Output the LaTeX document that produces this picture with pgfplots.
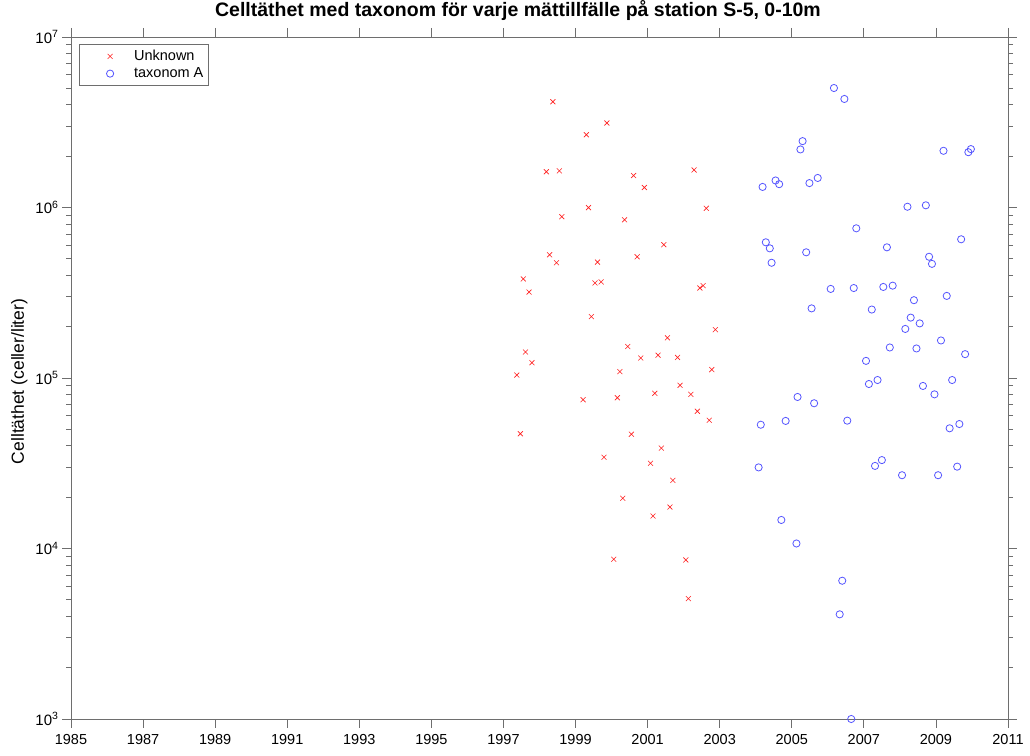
\documentclass[border=0pt]{standalone}
\usepackage{fontspec}
\setmainfont{Liberation Sans}
\usepackage{pgfplots}
\usepackage{pgfplotstable}
\pgfplotsset{compat=1.18}
\definecolor{axgray}{RGB}{110,110,110}
\definecolor{mred}{RGB}{255,30,30}
\definecolor{mblue}{RGB}{85,85,255}
\pgfplotsset{mylegimg/.style={legend image code/.code={\path[draw=none,fill=none] (0pt,-3pt) rectangle (50pt,3pt); \draw[mark repeat=2,mark phase=2,##1,only marks] plot coordinates {(0pt,0pt) (28pt,0pt) (50pt,0pt)};}}}

\pgfplotstableread{
year value
1998.37 4.17e6
1999.87 3.13e6
1999.30 2.67e6
1998.19 1.62e6
1998.55 1.64e6
2000.61 1.54e6
2000.91 1.31e6
2002.29 1.66e6
1999.36 9.98e5
2002.63 9.89e5
1998.62 8.83e5
2000.36 8.47e5
2001.45 6.05e5
1998.28 5.28e5
1998.47 4.74e5
1999.61 4.78e5
2000.71 5.14e5
1997.55 3.81e5
1997.71 3.19e5
1999.54 3.61e5
1999.71 3.66e5
2002.45 3.37e5
2002.54 3.48e5
1999.44 2.29e5
2002.88 1.92e5
2001.55 1.72e5
1997.61 1.42e5
1997.79 1.23e5
2000.45 1.53e5
2000.81 1.31e5
2001.29 1.36e5
2001.83 1.32e5
1997.37 1.04e5
2000.23 1.09e5
2002.78 1.12e5
2001.90 9.06e4
2001.20 8.13e4
2002.20 8.02e4
1999.21 7.46e4
2000.16 7.66e4
2002.38 6.38e4
2002.71 5.65e4
1997.47 4.71e4
2000.55 4.68e4
2001.38 3.88e4
1999.79 3.43e4
2001.08 3.16e4
2001.70 2.51e4
2000.31 1.97e4
2001.62 1.75e4
2001.15 1.55e4
2000.06 8.65e3
2002.06 8.57e3
2002.13 5.08e3
}\unknowndata

\pgfplotstableread{
year value
2006.17 5.02e6
2006.46 4.33e6
2005.30 2.45e6
2005.24 2.19e6
2009.21 2.15e6
2009.97 2.20e6
2009.90 2.11e6
2004.19 1.32e6
2004.55 1.44e6
2004.65 1.37e6
2005.49 1.39e6
2005.72 1.49e6
2008.21 1.01e6
2008.72 1.03e6
2006.79 7.55e5
2009.70 6.51e5
2004.28 6.25e5
2004.39 5.76e5
2005.40 5.46e5
2007.64 5.84e5
2008.81 5.14e5
2008.89 4.67e5
2004.44 4.74e5
2006.08 3.33e5
2006.72 3.37e5
2007.54 3.42e5
2007.80 3.48e5
2009.30 3.03e5
2005.55 2.56e5
2008.39 2.86e5
2007.22 2.52e5
2008.30 2.26e5
2008.55 2.09e5
2008.15 1.94e5
2009.14 1.66e5
2007.72 1.51e5
2008.46 1.49e5
2009.81 1.38e5
2007.06 1.26e5
2007.14 9.22e4
2007.38 9.73e4
2008.64 8.98e4
2009.45 9.73e4
2008.96 8.02e4
2005.16 7.74e4
2005.62 7.11e4
2004.14 5.32e4
2004.83 5.60e4
2006.54 5.62e4
2009.38 5.07e4
2009.65 5.37e4
2004.08 2.99e4
2007.31 3.05e4
2007.50 3.30e4
2008.06 2.69e4
2009.06 2.69e4
2009.59 3.02e4
2004.71 1.47e4
2005.13 1.07e4
2006.40 6.47e3
2006.33 4.11e3
2006.65 1.00e3
}\taxondata

\begin{document}
\begin{tikzpicture}
\path[use as bounding box] (-71pt,-36pt) rectangle (959pt,719pt);
\begin{axis}[
  at={(0,0)}, anchor=south west,
  width=937pt, height=682pt, scale only axis,
  xmin=1985, xmax=2011,
  ymode=log, ymin=1e3, ymax=1e7,
  xtick={1985,1987,...,2011},
  ytick={1e3,1e4,1e5,1e6,1e7},
  yticklabels={10\textsuperscript{3},10\textsuperscript{4},10\textsuperscript{5},10\textsuperscript{6},10\textsuperscript{7}},
  minor ytick={2e3,3e3,4e3,5e3,6e3,7e3,8e3,9e3,2e4,3e4,4e4,5e4,6e4,7e4,8e4,9e4,2e5,3e5,4e5,5e5,6e5,7e5,8e5,9e5,2e6,3e6,4e6,5e6,6e6,7e6,8e6,9e6},
  /pgf/number format/1000 sep={},
  /pgf/number format/assume math mode=true,
  tick style={axgray, line width=0.8pt},
  xtick align=outside,
  ytick align=outside,
  major tick length=9pt,
  minor tick length=5pt,
  axis line style={axgray, line width=0.8pt},
  tick label style={font=\fontsize{14.5}{17}\selectfont},
  xticklabel style={yshift=-3pt},
  yticklabel style={font=\fontsize{15}{17}\selectfont},
  clip=false,
  title={Celltäthet med taxonom för varje mättillfälle på station S-5, 0-10m},
  title style={at={(axis description cs:0.477,1)}, anchor=base, yshift=14pt, font=\bfseries\fontsize{19.5}{22}\selectfont},
  ylabel={Celltäthet (celler/liter)},
  ylabel style={at={(axis description cs:-0.055,0.495)}, anchor=center, font=\fontsize{17.5}{20}\selectfont},
  legend style={at={(axis description cs:0,1)}, anchor=north west, xshift=7.7pt, yshift=-7pt,
    draw=axgray, line width=0.8pt, font=\fontsize{14.5}{17}\selectfont, row sep=1.5pt, inner xsep=3pt, inner ysep=4pt},
  legend cell align=left,
]
\addplot[only marks, mark=x, mark size=3.5pt, mred, line width=0.6pt, mylegimg] table[x=year, y=value] {\unknowndata};
\addlegendentry{Unknown}
\addplot[only marks, mark=o, mark size=3.6pt, mblue, line width=0.8pt, mylegimg] table[x=year, y=value] {\taxondata};
\addlegendentry{taxonom A}
\end{axis}
\end{tikzpicture}
\end{document}
